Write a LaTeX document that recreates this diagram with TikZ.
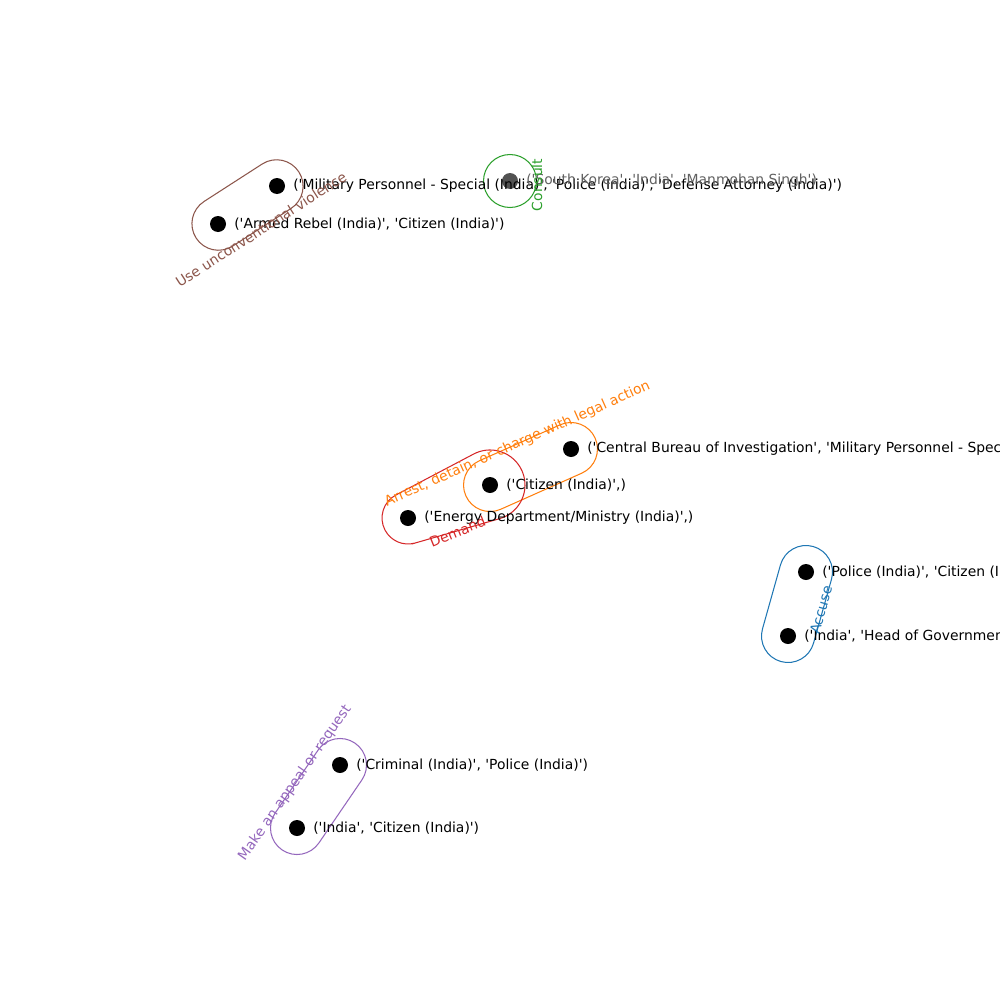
\documentclass[tikz,border=0pt]{standalone}
\usepackage{fontspec}
\newfontfamily\djv{DejaVu Sans}
\usetikzlibrary{calc}
\definecolor{cblue}{HTML}{1F77B4}
\definecolor{corange}{HTML}{FF7F0E}
\definecolor{cgreen}{HTML}{2CA02C}
\definecolor{cred}{HTML}{D62728}
\definecolor{cpurple}{HTML}{9467BD}
\definecolor{cbrown}{HTML}{8C564B}
\begin{document}
\begin{tikzpicture}[x=0.72pt,y=-0.72pt,
  dot/.style={circle, fill=black, minimum size=11.52pt, inner sep=0pt},
  lbl/.style={anchor=west, inner sep=0pt, font=\djv\fontsize{10}{12}\selectfont},
  elbl/.style={inner sep=0pt, font=\djv\fontsize{10}{12}\selectfont},
  hull/.style={draw, line width=0.75pt, rectangle, rounded corners=19.08pt, minimum height=38.16pt, inner sep=0pt},
]
\fill[white] (0,0) rectangle (1000,1000);
\clip (0,0) rectangle (1000,1000);

% hyperedges
\node[hull, cbrown, minimum width={122.2*0.72pt}, rotate=32.8] (e1) at (247.5,205) {};
\node[draw, cgreen, line width=0.75pt, circle, minimum size=38.16pt, inner sep=0pt] (e2) at (510,181) {};
\node[hull, corange, minimum width={141.6*0.72pt}, rotate=24.0] (e3) at (530.5,467) {};
% red hull: circles r=26 at (408,518) and r=35 at (490,485)
\draw[cred, line width=0.75pt] (415.2,543.0) -- (499.7,518.6)
   arc[start angle=73.9, end angle=-117.8, radius=35] -- (395.9,495.0)
   arc[start angle=242.2, end angle=73.9, radius=26] -- cycle;
\node[hull, cblue, minimum width={119.5*0.72pt}, rotate=74.3] (e5) at (797,604) {};
\node[hull, cpurple, minimum width={129.3*0.72pt}, rotate=55.7] (e6) at (318.5,796.5) {};

% nodes
\node[dot] (n1) at (277,186) {};
\node[dot] (n2) at (218,224) {};
\node[dot, fill=black!68] (n3) at (510,181) {};
\node[dot] (n4) at (571,449) {};
\node[dot] (n5) at (490,485) {};
\node[dot] (n6) at (408,518) {};
\node[dot] (n7) at (806,572) {};
\node[dot] (n8) at (788,636) {};
\node[dot] (n9) at (340,765) {};
\node[dot] (n10) at (297,828) {};

% node labels
\node[lbl] (t1) at (293,186) {('Military Personnel - Special (India)', 'Police (India)', 'Defense Attorney (India)')};
\node[lbl] (t2) at (234,224) {('Armed Rebel (India)', 'Citizen (India)')};
\node[lbl, text=black!62] (t3) at (526,181) {('South Korea', 'India', 'Manmohan Singh')};
\node[lbl] (t4) at (587,449) {('Central Bureau of Investigation', 'Military Personnel - Special (India)')};
\node[lbl] (t5) at (506,485) {('Citizen (India)',)};
\node[lbl] (t6) at (424,518) {('Energy Department/Ministry (India)',)};
\node[lbl] (t7) at (822,572) {('Police (India)', 'Citizen (India)')};
\node[lbl] (t8) at (804,636) {('India', 'Head of Government (India)')};
\node[lbl] (t9) at (356,765) {('Criminal (India)', 'Police (India)')};
\node[lbl] (t10) at (313,828) {('India', 'Citizen (India)')};

% edge labels
\node[elbl, text=cbrown, rotate=32.8] (l1) at (261,229.5) {Use unconventional violence};
\node[elbl, text=cgreen, rotate=90] (l2) at (537,185) {Consult};
\node[elbl, text=corange, rotate=24.0] (l3) at (517.5,444) {Arrest, detain, or charge with legal action};
\node[elbl, text=cred, rotate=22] (l4) at (457.5,531.5) {Demand};
\node[elbl, text=cblue, rotate=74] (l5) at (821,610) {Accuse};
\node[elbl, text=cpurple, rotate=55] (l6) at (295,783) {Make an appeal or request};
\end{tikzpicture}
\end{document}
